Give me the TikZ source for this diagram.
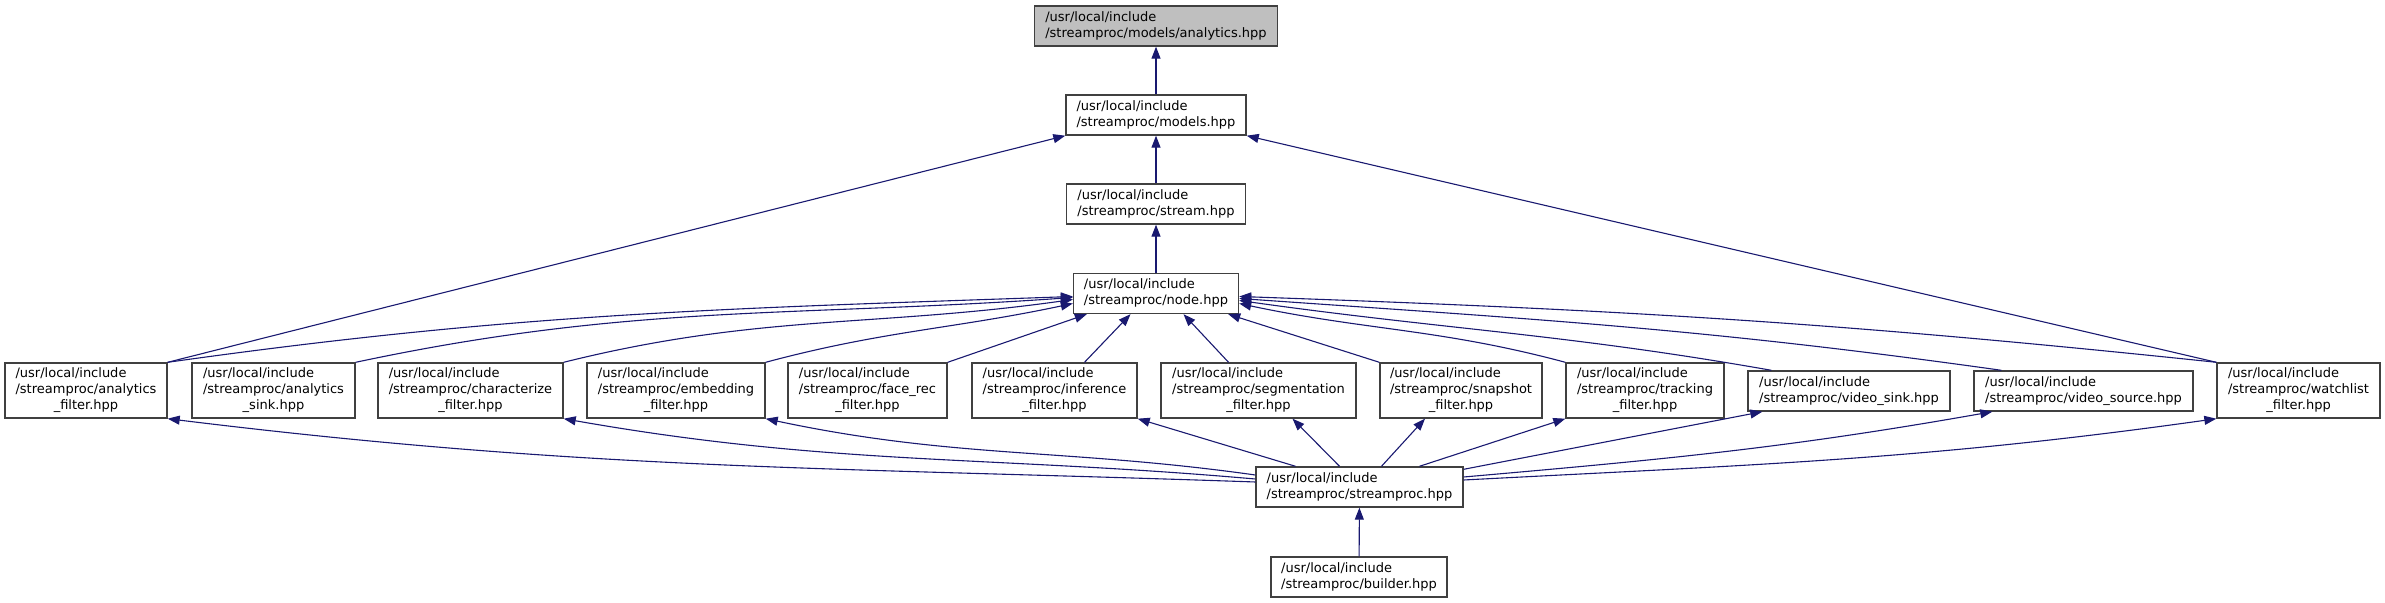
\documentclass[tikz,border=0pt]{standalone}
\usepackage{fontspec}
\usepackage{xcolor}
\usepackage{tikz}
\usetikzlibrary{arrows.meta}

\newfontfamily\doxyfont{DejaVu Sans}
\definecolor{boxline}{HTML}{404040}
\definecolor{topfill}{HTML}{BFBFBF}
\definecolor{edgeblue}{HTML}{191970}

\newcommand{\twoline}[1]{\begin{tabular}{@{}l@{}}/usr/local/include\\#1\end{tabular}}
\newcommand{\threeline}[2]{\begin{tabular}{@{}l@{}}/usr/local/include\\#1\\\multicolumn{1}{@{}c@{}}{#2}\end{tabular}}

\begin{document}
\begin{tikzpicture}[x=0.5pt, y=0.5pt,
        file/.style={draw=boxline, line width=0.7pt, fill=white, inner xsep=0pt, inner ysep=0pt,
            minimum height=20pt, font=\doxyfont\fontsize{6.5}{8}\selectfont},
        tall/.style={minimum height=27.5pt},
        incl/.style={edgeblue, line width=0.55pt, -{Triangle[length=6pt,width=4.5pt]}}]
        \useasboundingbox (0,0) rectangle (2385,603);

        % Header chain
        \node[file, fill=topfill, minimum width=121.5pt] (analytics) at (1156,577) {\twoline{/streamproc/models/analytics.hpp}};
        \node[file, minimum width=90pt] (models) at (1156,488) {\twoline{/streamproc/models.hpp}};
        \node[file, minimum width=89.5pt] (stream) at (1156,399) {\twoline{/streamproc/stream.hpp}};
        \node[file, minimum width=82.5pt] (nodeh) at (1156,309.5) {\twoline{/streamproc/node.hpp}};

        % Row of headers including node.hpp
        \node[file, tall, minimum width=81pt] (anfilter) at (86,212.5) {\threeline{/streamproc/analytics}{\_filter.hpp}};
        \node[file, tall, minimum width=81.5pt] (ansink) at (273.5,212.5) {\threeline{/streamproc/analytics}{\_sink.hpp}};
        \node[file, tall, minimum width=92.5pt] (charfilter) at (470.5,212.5) {\threeline{/streamproc/characterize}{\_filter.hpp}};
        \node[file, tall, minimum width=89pt] (embfilter) at (676,212.5) {\threeline{/streamproc/embedding}{\_filter.hpp}};
        \node[file, tall, minimum width=79.5pt] (facefilter) at (867.5,212.5) {\threeline{/streamproc/face\_rec}{\_filter.hpp}};
        \node[file, tall, minimum width=82.5pt] (inffilter) at (1054.5,212.5) {\threeline{/streamproc/inference}{\_filter.hpp}};
        \node[file, tall, minimum width=97.5pt] (segfilter) at (1258.5,212.5) {\threeline{/streamproc/segmentation}{\_filter.hpp}};
        \node[file, tall, minimum width=81pt] (snapfilter) at (1461,212.5) {\threeline{/streamproc/snapshot}{\_filter.hpp}};
        \node[file, tall, minimum width=79pt] (trackfilter) at (1645,212.5) {\threeline{/streamproc/tracking}{\_filter.hpp}};
        \node[file, minimum width=101pt] (vidsink) at (1849,212) {\twoline{/streamproc/video\_sink.hpp}};
        \node[file, minimum width=109.5pt] (vidsource) at (2083.5,212) {\twoline{/streamproc/video\_source.hpp}};
        \node[file, tall, minimum width=81.5pt] (watchfilter) at (2298.5,212.5) {\threeline{/streamproc/watchlist}{\_filter.hpp}};

        % Umbrella header and builder
        \node[file, minimum width=103.5pt] (streamproc) at (1359.5,116) {\twoline{/streamproc/streamproc.hpp}};
        \node[file, minimum width=88pt] (builder) at (1359,26) {\twoline{/streamproc/builder.hpp}};

        % Upward chain
        \draw[incl] (models) -- (analytics);
        \draw[incl] (stream) -- (models);
        \draw[incl] (nodeh) -- (stream);
        \draw[incl] (builder) -- (streamproc);
        \draw[incl] (anfilter.north east) -- (models.south west);
        \draw[incl] (watchfilter.north west) -- (models.south east);

        % Includes of node.hpp
        \draw[incl] (anfilter.north east) to[out=8, in=182] ([yshift=-1.5pt]nodeh.west);
        \draw[incl] (ansink.north east) to[out=12, in=184] ([yshift=-2pt]nodeh.west);
        \draw[incl] (charfilter.north east) to[out=14, in=188] ([yshift=-3pt]nodeh.west);
        \draw[incl] (embfilter.north east) to[out=15, in=192] ([yshift=-5pt]nodeh.west);
        \draw[incl] (facefilter.north east) -- ([xshift=7pt]nodeh.south west);
        \draw[incl] ([xshift=15pt]inffilter.north) -- ([xshift=-12.75pt]nodeh.south);
        \draw[incl] ([xshift=-15pt]segfilter.north) -- ([xshift=13.75pt]nodeh.south);
        \draw[incl] (snapfilter.north west) -- ([xshift=-5.5pt]nodeh.south east);
        \draw[incl] (trackfilter.north west) to[out=165, in=-12] ([yshift=-5pt]nodeh.east);
        \draw[incl] ([xshift=12pt]vidsink.north west) to[out=170, in=-8] ([yshift=-3.5pt]nodeh.east);
        \draw[incl] ([xshift=14pt]vidsource.north west) to[out=172, in=-4] ([yshift=-2.5pt]nodeh.east);
        \draw[incl] (watchfilter.north west) to[out=174, in=-2] ([yshift=-1.5pt]nodeh.east);

        % Includes of the umbrella header
        \draw[incl] ([yshift=2.5pt]streamproc.west) to[out=178, in=-7] (anfilter.south east);
        \draw[incl] ([yshift=4pt]streamproc.west) to[out=175, in=-10] (charfilter.south east);
        \draw[incl] ([yshift=6pt]streamproc.west) to[out=172, in=-12] (embfilter.south east);
        \draw[incl] ([xshift=-32pt]streamproc.north) -- (inffilter.south east);
        \draw[incl] ([xshift=-10pt]streamproc.north) -- ([xshift=17pt]segfilter.south);
        \draw[incl] ([xshift=11pt]streamproc.north) -- ([xshift=-18pt]snapfilter.south);
        \draw[incl] ([xshift=30pt]streamproc.north) -- (trackfilter.south west);
        \draw[incl] ([yshift=-1.5pt]streamproc.north east) -- ([xshift=7.5pt]vidsink.south west);
        \draw[incl] ([yshift=5pt]streamproc.east) to[out=5, in=190] ([xshift=9.5pt]vidsource.south west);
        \draw[incl] ([yshift=3.5pt]streamproc.east) to[out=3, in=188] (watchfilter.south west);
      \end{tikzpicture}
\end{document}
